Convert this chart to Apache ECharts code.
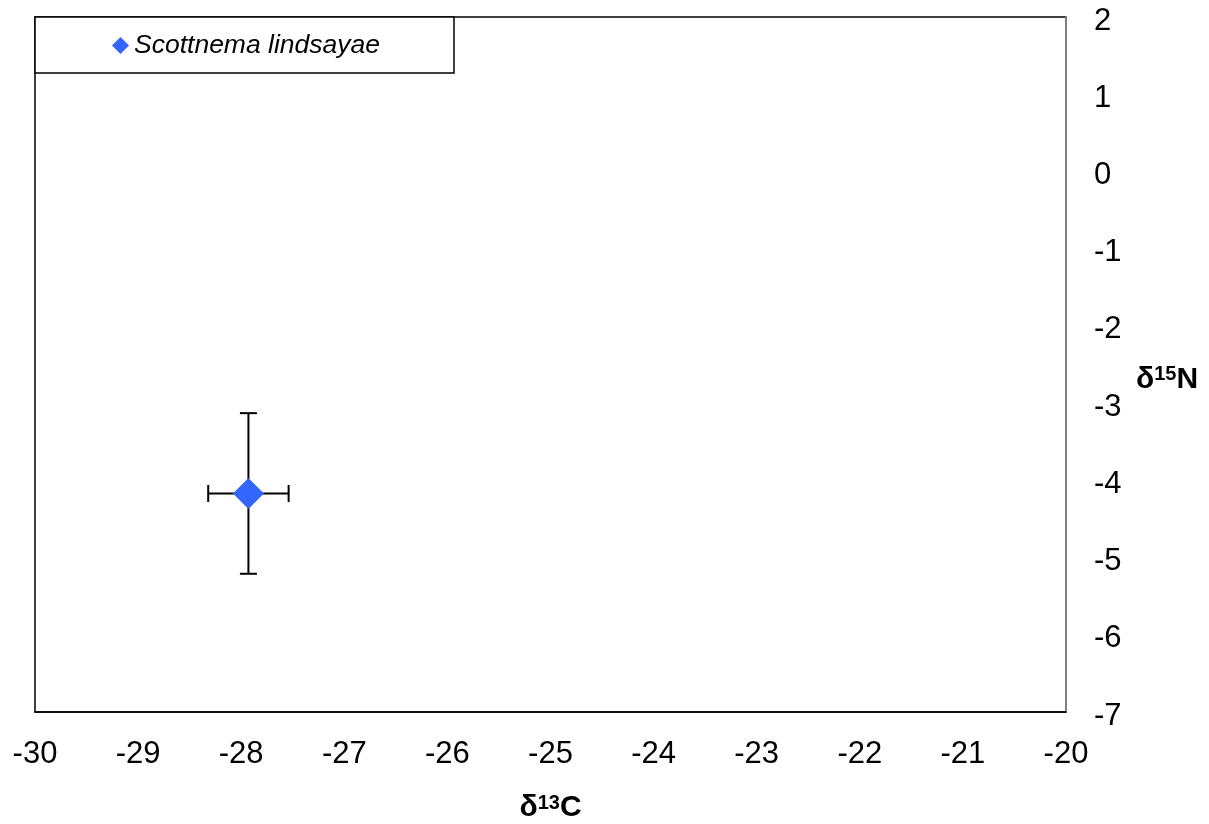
<!DOCTYPE html>
<html><head><meta charset="utf-8">
<script src="https://cdn.jsdelivr.net/npm/echarts@6/dist/echarts.min.js"></script>
<style>html,body{margin:0;padding:0;background:#fff}#c{width:1209px;height:824px}</style>
</head><body><div id="c"></div>
<script>
const seriesName = 'Scottnema lindsayae';
const d13C = [-27.93];
const d15N = [-4.17];
const d13CErr = [0.39];
const d15NErr = [1.04];
const xTicks = [-30, -20, 1];
const yTicks = [-7, 2, 1];

const points = d13C.map((x, i) => [x, d15N[i]]);
const errData = d13C.map((x, i) => [x, d15N[i], d13CErr[i], d15NErr[i]]);

const chart = echarts.init(document.getElementById('c'));
const font = 'Liberation Sans, Arial, sans-serif';
chart.setOption({
  animation: false,
  backgroundColor: '#fff',
  grid: { left: 35, right: 143, top: 17, bottom: 112, show: true, borderColor: '#000', borderWidth: 1.5,
          containLabel: false, outerBoundsMode: 'none' },
  legend: {
    left: 35, top: 17,
    data: [{ name: seriesName, icon: 'diamond' }],
    itemWidth: 17, itemHeight: 17, itemGap: 0,
    padding: [15, 74, 14, 77],
    borderColor: '#000', borderWidth: 1.5, backgroundColor: '#fff',
    textStyle: { fontFamily: font, fontSize: 26.5, fontStyle: 'italic', color: '#000' }
  },
  xAxis: {
    type: 'value', min: xTicks[0], max: xTicks[1], interval: xTicks[2],
    splitLine: { show: false }, axisTick: { show: false },
    axisLine: { show: true, onZero: false, lineStyle: { color: '#000', width: 1.5 } },
    axisLabel: { fontFamily: font, fontSize: 31, color: '#000', margin: 27 },
    name: '{b|δ}{s|13}{b|C}', nameLocation: 'middle', nameGap: 81,
    nameTextStyle: {
      rich: {
        b: { fontFamily: font, fontSize: 30, fontWeight: 'bold', color: '#000' },
        s: { fontFamily: font, fontSize: 20, fontWeight: 'bold', color: '#000', padding: [0, 0, 10, 0] }
      }
    }
  },
  yAxis: {
    type: 'value', position: 'right', min: yTicks[0], max: yTicks[1], interval: yTicks[2],
    splitLine: { show: false }, axisTick: { show: false },
    axisLine: { show: true, onZero: false, lineStyle: { color: '#808080', width: 2 } },
    axisLabel: { fontFamily: font, fontSize: 31, color: '#000', margin: 28, verticalAlign: 'top', lineHeight: 8 },
    name: '{b|δ}{s|15}{b|N}', nameLocation: 'middle', nameRotate: 0, nameGap: 70,
    nameTextStyle: {
      align: 'left', padding: [30, 0, 0, 0],
      rich: {
        b: { fontFamily: font, fontSize: 30, fontWeight: 'bold', color: '#000' },
        s: { fontFamily: font, fontSize: 20, fontWeight: 'bold', color: '#000', padding: [0, 0, 10, 0] }
      }
    }
  },
  series: [
    {
      type: 'custom', name: 'err', z: 1, silent: true,
      renderItem: function (params, api) {
        const x = api.value(0), y = api.value(1), ex = api.value(2), ey = api.value(3);
        const c = api.coord([x, y]);
        const l = api.coord([x - ex, y]), r = api.coord([x + ex, y]);
        const t = api.coord([x, y + ey]), b = api.coord([x, y - ey]);
        const cap = 8.5;
        const st = { stroke: '#000', lineWidth: 2 };
        return {
          type: 'group',
          children: [
            { type: 'line', shape: { x1: l[0], y1: c[1], x2: r[0], y2: c[1] }, style: st },
            { type: 'line', shape: { x1: c[0], y1: t[1], x2: c[0], y2: b[1] }, style: st },
            { type: 'line', shape: { x1: l[0], y1: c[1] - cap, x2: l[0], y2: c[1] + cap }, style: st },
            { type: 'line', shape: { x1: r[0], y1: c[1] - cap, x2: r[0], y2: c[1] + cap }, style: st },
            { type: 'line', shape: { x1: c[0] - cap, y1: t[1], x2: c[0] + cap, y2: t[1] }, style: st },
            { type: 'line', shape: { x1: c[0] - cap, y1: b[1], x2: c[0] + cap, y2: b[1] }, style: st }
          ]
        };
      },
      data: errData
    },
    {
      type: 'scatter', name: seriesName, z: 3,
      symbol: 'diamond', symbolSize: 31,
      itemStyle: { color: '#3366FF', opacity: 1 },
      data: points
    }
  ]
});
</script></body></html>
